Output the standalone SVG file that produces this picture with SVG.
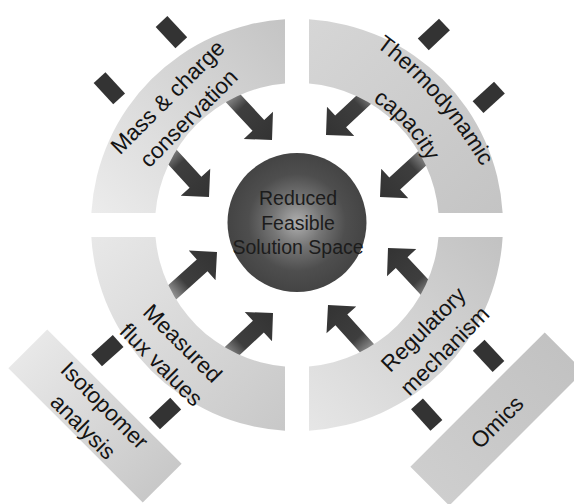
<svg xmlns="http://www.w3.org/2000/svg" width="574" height="504" viewBox="0 0 574 504">
<style>
text{font-family:"Liberation Sans",Arial,sans-serif;fill:#141414}
.lbl{font-size:22.5px}
.ctr{font-size:19.5px;fill:#1c1c1c}
.bar{fill:#333}
.arr{fill:url(#ag)}
</style>
<defs>
<linearGradient id="ag" gradientUnits="userSpaceOnUse" x1="-80" y1="0" x2="0" y2="0">
<stop offset="0" stop-color="#b0b0b0"/><stop offset="0.25" stop-color="#8a8a8a"/><stop offset="0.45" stop-color="#3e3e3e"/><stop offset="1" stop-color="#333"/>
</linearGradient>
<linearGradient id="gTL" gradientUnits="userSpaceOnUse" x1="285" y1="20" x2="91" y2="213"><stop offset="0" stop-color="#c4c4c4"/><stop offset="1" stop-color="#ececec"/></linearGradient>
<linearGradient id="gTR" gradientUnits="userSpaceOnUse" x1="309" y1="20" x2="502" y2="213"><stop offset="0" stop-color="#d6d6d6"/><stop offset="1" stop-color="#c4c4c4"/></linearGradient>
<linearGradient id="gBL" gradientUnits="userSpaceOnUse" x1="91" y1="237" x2="285" y2="430"><stop offset="0" stop-color="#e8e8e8"/><stop offset="1" stop-color="#c8c8c8"/></linearGradient>
<linearGradient id="gBR" gradientUnits="userSpaceOnUse" x1="309" y1="430" x2="502" y2="237"><stop offset="0" stop-color="#e6e6e6"/><stop offset="1" stop-color="#c2c2c2"/></linearGradient>
<linearGradient id="gIso" x1="0" y1="0" x2="1" y2="0"><stop offset="0" stop-color="#e8e8e8"/><stop offset="1" stop-color="#c8c8c8"/></linearGradient>
<linearGradient id="gOm" x1="0" y1="0" x2="1" y2="0"><stop offset="0" stop-color="#cecece"/><stop offset="1" stop-color="#c2c2c2"/></linearGradient>
<radialGradient id="gC" cx="0.5" cy="0.5" r="0.5">
<stop offset="0" stop-color="#b0b0b0"/><stop offset="0.35" stop-color="#767676"/><stop offset="0.7" stop-color="#4e4e4e"/><stop offset="1" stop-color="#444"/>
</radialGradient>
<path id="pThermo" d="M372,44 Q436,89 484,170.5"/>
<path id="pCap" d="M335.6,85 A145 145 0 0 1 439.8,199.8"/>
</defs>

<g id="connectors">
<g transform="translate(272,140) rotate(47)"><rect class="bar" x="-162" y="-8" width="29" height="16"/><path class="arr" d="M-80,-8H-20V-20L0,0L-20,20V8H-80Z"/></g>
<g transform="translate(209,197) rotate(47.5)"><rect class="bar" x="-162" y="-8" width="29" height="16"/><path class="arr" d="M-80,-8H-20V-20L0,0L-20,20V8H-80Z"/></g>
<g transform="translate(326,135) rotate(137)"><rect class="bar" x="-162" y="-8" width="29" height="16"/><path class="arr" d="M-80,-8H-20V-20L0,0L-20,20V8H-80Z"/></g>
<g transform="translate(380,197) rotate(137.5)"><rect class="bar" x="-162" y="-8" width="29" height="16"/><path class="arr" d="M-80,-8H-20V-20L0,0L-20,20V8H-80Z"/></g>
<g transform="translate(217,252) rotate(-42)"><rect class="bar" x="-162" y="-8" width="29" height="16"/><path class="arr" d="M-80,-8H-20V-20L0,0L-20,20V8H-80Z"/></g>
<g transform="translate(273,313) rotate(-43)"><rect class="bar" x="-162" y="-8" width="29" height="16"/><path class="arr" d="M-80,-8H-20V-20L0,0L-20,20V8H-80Z"/></g>
<g transform="translate(388,248) rotate(-133)"><rect class="bar" x="-162" y="-8" width="29" height="16"/><path class="arr" d="M-80,-8H-20V-20L0,0L-20,20V8H-80Z"/></g>
<g transform="translate(328,305) rotate(-132)"><rect class="bar" x="-162" y="-8" width="29" height="16"/><path class="arr" d="M-80,-8H-20V-20L0,0L-20,20V8H-80Z"/></g>
</g>

<g id="seg-mass">
<path d="M285,19.35 A206 206 0 0 0 91.35,213 L155.51,213 A142 142 0 0 1 285,83.51 Z" fill="url(#gTL)"/>
<text class="lbl" text-anchor="middle" transform="translate(178,107.5) rotate(-45)"><tspan x="0" y="-7">Mass &amp; charge</tspan><tspan x="0" y="22.7">conservation</tspan></text>
</g>

<g id="seg-thermo">
<path d="M309,19.35 A206 206 0 0 1 502.65,213 L438.49,213 A142 142 0 0 0 309,83.51 Z" fill="url(#gTR)"/>
<text class="lbl" text-anchor="middle"><textPath href="#pThermo" startOffset="50%">Thermodynamic</textPath></text>
<text class="lbl" text-anchor="middle"><textPath href="#pCap" startOffset="50%">capacity</textPath></text>
</g>

<g id="seg-flux">
<path d="M91.35,237 A206 206 0 0 0 285,430.65 L285,366.49 A142 142 0 0 1 155.51,237 Z" fill="url(#gBL)"/>
<text class="lbl" text-anchor="middle" transform="translate(172,354) rotate(45)"><tspan x="0" y="-7.3">Measured</tspan><tspan x="0" y="22.9">flux values</tspan></text>
</g>

<g id="seg-reg">
<path d="M309,430.65 A206 206 0 0 0 502.65,237 L438.49,237 A142 142 0 0 1 309,366.49 Z" fill="url(#gBR)"/>
<text class="lbl" text-anchor="middle" transform="translate(434,340) rotate(-45)"><tspan x="0" y="-7.3">Regulatory</tspan><tspan x="0" y="22.9">mechanism</tspan></text>
</g>

<g id="box-iso">
<rect x="-95" y="-27.5" width="190" height="55" fill="url(#gIso)" transform="translate(95,416) rotate(45)"/>
<text class="lbl" text-anchor="middle" transform="translate(94,416) rotate(45)"><tspan x="0" y="-7.3">Isotopomer</tspan><tspan x="0" y="22.9">analysis</tspan></text>
</g>

<g id="box-omics">
<rect x="-95" y="-27.5" width="190" height="55" fill="url(#gOm)" transform="translate(497,419) rotate(-45)"/>
<text class="lbl" text-anchor="middle" transform="translate(497,422) rotate(-45)" y="7.8">Omics</text>
</g>

<g id="center">
<circle cx="297" cy="222.5" r="69.5" fill="url(#gC)"/>
<text class="ctr" text-anchor="middle"><tspan x="298" y="204.5">Reduced</tspan><tspan x="298" y="229.5">Feasible</tspan><tspan x="298" y="253.5">Solution Space</tspan></text>
</g>
</svg>
